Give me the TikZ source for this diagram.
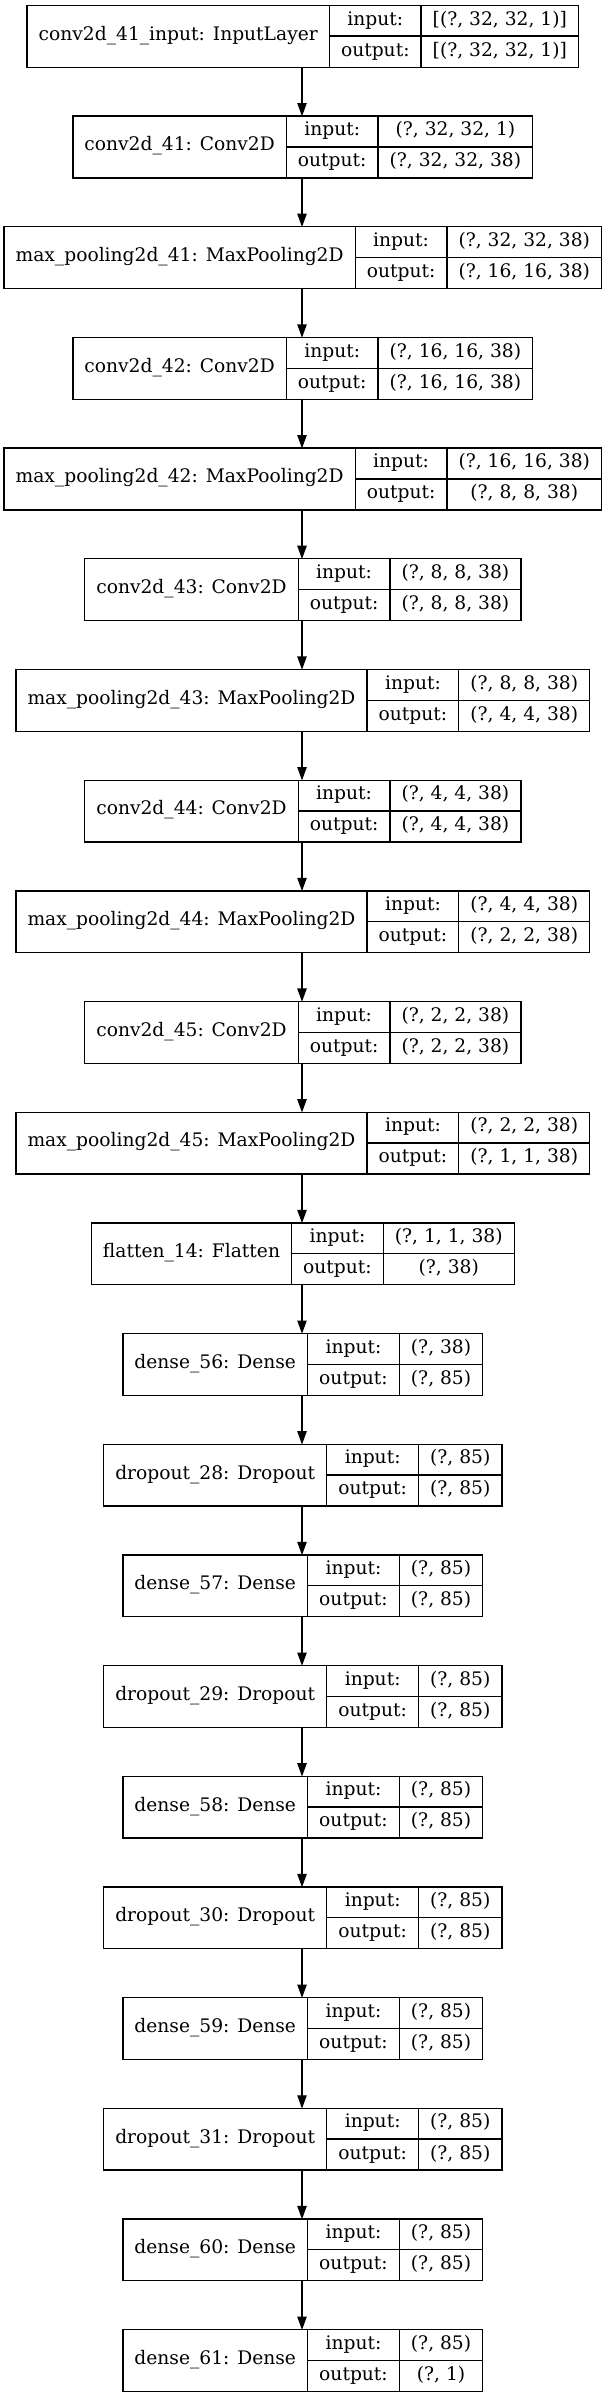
\documentclass[tikz,border=0pt]{standalone}
\usepackage{fontspec}
\setmainfont{DejaVu Serif}
\usetikzlibrary{arrows.meta}
\newlength\lwa \newlength\lwb \newlength\lwc \newlength\lwtmp
\newcommand\lfont{\fontsize{14pt}{16.8pt}\selectfont}
\newcommand\padd{17pt}
\newcommand\measure[4]{%
 \expandafter\def\csname nm#1\endcsname{#2}%
 \expandafter\def\csname iv#1\endcsname{#3}%
 \expandafter\def\csname ov#1\endcsname{#4}%
 \settowidth\lwa{\lfont #2}\addtolength\lwa{\padd}%
 \settowidth\lwb{\lfont output:}\addtolength\lwb{\padd}%
 \settowidth\lwc{\lfont #3}\settowidth\lwtmp{\lfont #4}%
 \ifdim\lwtmp>\lwc\relax \setlength\lwc{\lwtmp}\fi
 \addtolength\lwc{\padd}%
 \expandafter\edef\csname wa#1\endcsname{\the\lwa}%
 \expandafter\edef\csname wb#1\endcsname{\the\lwb}%
 \expandafter\edef\csname wc#1\endcsname{\the\lwc}%
}
\tikzset{
 cell/.style={inner xsep=0pt, inner ysep=0pt, font=\lfont, text height=0.9em, text depth=0.24em},
 namecell/.style={cell, minimum height=45.75pt, text height=0.85em, text depth=0.25em},
 rowcell/.style={cell, minimum height=22.875pt},
 frame/.style={draw=black, line width=1pt},
 arr/.style={draw=black, line width=1pt, -{Triangle[length=10pt,width=7pt]}}
}
\newcommand\layer[2]{%
 \edef\wA{\csname wa#2\endcsname}\edef\wB{\csname wb#2\endcsname}\edef\wC{\csname wc#2\endcsname}%
 \pgfmathsetmacro\yc{(2397-36.2-110.68*#2)*0.75}%
 \pgfmathsetmacro\xl{302*0.75-(\wA+\wB+\wC)/2}%
 \node[namecell, minimum width=\wA, anchor=west] (#1) at (\xl pt,\yc pt) {\csname nm#2\endcsname};
 \node[rowcell, minimum width=\wB, anchor=south west] (#1-il) at (#1.east) {input:};
 \node[rowcell, minimum width=\wB, anchor=north west] (#1-ol) at (#1.east) {output:};
 \node[rowcell, minimum width=\wC, anchor=south west] (#1-iv) at (#1-il.south east) {\csname iv#2\endcsname};
 \node[rowcell, minimum width=\wC, anchor=north west] (#1-ov) at (#1-ol.north east) {\csname ov#2\endcsname};
 \draw[frame] (#1.north west) rectangle (#1-ov.south east);
 \draw[frame] (#1.north east) -- (#1.south east);
 \draw[frame] (#1-il.north east) -- (#1-ol.south east);
 \draw[frame] (#1.east) -- (#1-iv.south east);
 \coordinate (#1-top) at (226.5pt,\yc pt+22.875pt);
 \coordinate (#1-bot) at (226.5pt,\yc pt-22.875pt);
}
\begin{document}
\measure{0}{conv2d\_41\_input: InputLayer}{[(?, 32, 32, 1)]}{[(?, 32, 32, 1)]}%
\measure{1}{conv2d\_41: Conv2D}{(?, 32, 32, 1)}{(?, 32, 32, 38)}%
\measure{2}{max\_pooling2d\_41: MaxPooling2D}{(?, 32, 32, 38)}{(?, 16, 16, 38)}%
\measure{3}{conv2d\_42: Conv2D}{(?, 16, 16, 38)}{(?, 16, 16, 38)}%
\measure{4}{max\_pooling2d\_42: MaxPooling2D}{(?, 16, 16, 38)}{(?, 8, 8, 38)}%
\measure{5}{conv2d\_43: Conv2D}{(?, 8, 8, 38)}{(?, 8, 8, 38)}%
\measure{6}{max\_pooling2d\_43: MaxPooling2D}{(?, 8, 8, 38)}{(?, 4, 4, 38)}%
\measure{7}{conv2d\_44: Conv2D}{(?, 4, 4, 38)}{(?, 4, 4, 38)}%
\measure{8}{max\_pooling2d\_44: MaxPooling2D}{(?, 4, 4, 38)}{(?, 2, 2, 38)}%
\measure{9}{conv2d\_45: Conv2D}{(?, 2, 2, 38)}{(?, 2, 2, 38)}%
\measure{10}{max\_pooling2d\_45: MaxPooling2D}{(?, 2, 2, 38)}{(?, 1, 1, 38)}%
\measure{11}{flatten\_14: Flatten}{(?, 1, 1, 38)}{(?, 38)}%
\measure{12}{dense\_56: Dense}{(?, 38)}{(?, 85)}%
\measure{13}{dropout\_28: Dropout}{(?, 85)}{(?, 85)}%
\measure{14}{dense\_57: Dense}{(?, 85)}{(?, 85)}%
\measure{15}{dropout\_29: Dropout}{(?, 85)}{(?, 85)}%
\measure{16}{dense\_58: Dense}{(?, 85)}{(?, 85)}%
\measure{17}{dropout\_30: Dropout}{(?, 85)}{(?, 85)}%
\measure{18}{dense\_59: Dense}{(?, 85)}{(?, 85)}%
\measure{19}{dropout\_31: Dropout}{(?, 85)}{(?, 85)}%
\measure{20}{dense\_60: Dense}{(?, 85)}{(?, 85)}%
\measure{21}{dense\_61: Dense}{(?, 85)}{(?, 1)}%
\begin{tikzpicture}
\fill[white] (0,0) rectangle (453pt,1797.75pt);
\useasboundingbox (0,0) rectangle (453pt,1797.75pt);
\layer{L0}{0}
\layer{L1}{1}
\layer{L2}{2}
\layer{L3}{3}
\layer{L4}{4}
\layer{L5}{5}
\layer{L6}{6}
\layer{L7}{7}
\layer{L8}{8}
\layer{L9}{9}
\layer{L10}{10}
\layer{L11}{11}
\layer{L12}{12}
\layer{L13}{13}
\layer{L14}{14}
\layer{L15}{15}
\layer{L16}{16}
\layer{L17}{17}
\layer{L18}{18}
\layer{L19}{19}
\layer{L20}{20}
\layer{L21}{21}
\draw[arr] (L0-bot) -- (L1-top);
\draw[arr] (L1-bot) -- (L2-top);
\draw[arr] (L2-bot) -- (L3-top);
\draw[arr] (L3-bot) -- (L4-top);
\draw[arr] (L4-bot) -- (L5-top);
\draw[arr] (L5-bot) -- (L6-top);
\draw[arr] (L6-bot) -- (L7-top);
\draw[arr] (L7-bot) -- (L8-top);
\draw[arr] (L8-bot) -- (L9-top);
\draw[arr] (L9-bot) -- (L10-top);
\draw[arr] (L10-bot) -- (L11-top);
\draw[arr] (L11-bot) -- (L12-top);
\draw[arr] (L12-bot) -- (L13-top);
\draw[arr] (L13-bot) -- (L14-top);
\draw[arr] (L14-bot) -- (L15-top);
\draw[arr] (L15-bot) -- (L16-top);
\draw[arr] (L16-bot) -- (L17-top);
\draw[arr] (L17-bot) -- (L18-top);
\draw[arr] (L18-bot) -- (L19-top);
\draw[arr] (L19-bot) -- (L20-top);
\draw[arr] (L20-bot) -- (L21-top);
\end{tikzpicture}
\end{document}
